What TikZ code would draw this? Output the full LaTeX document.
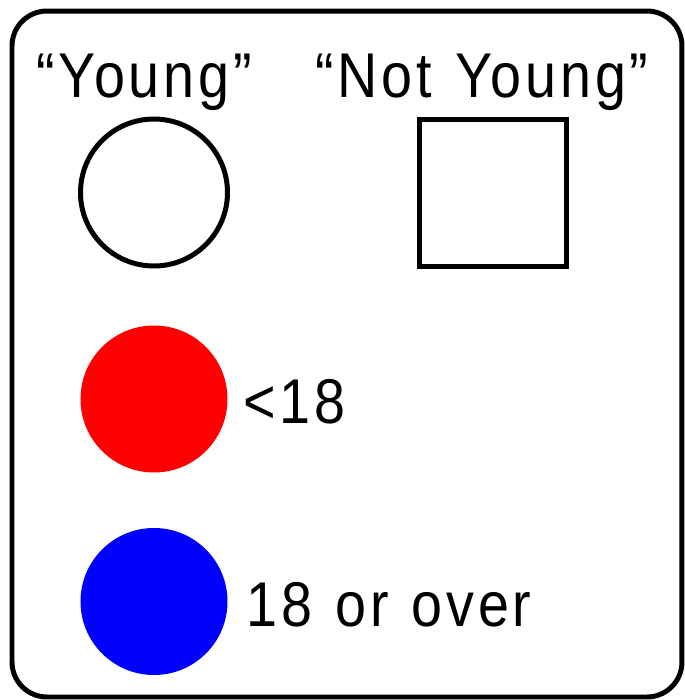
\documentclass[tikz,border=0pt]{standalone}
\usepackage{fontspec}
\setmainfont[FakeStretch=0.88, LetterSpace=6, WordSpace=1.2]{Liberation Sans}
\usepackage{tikz}
\usetikzlibrary{positioning}

\begin{document}
\begin{tikzpicture}[line width=1.42pt,
  every node/.style={font=\fontsize{18}{21}\selectfont, inner sep=0pt, outer sep=0pt},
  symbol/.style={draw, minimum size=1.47cm},
  dot/.style={circle, minimum size=1.47cm}]
\useasboundingbox (0,0) rectangle (6.85,7.00);
% frame
\draw[rounded corners=0.35cm] (0.12,0.03) rectangle (6.82,6.89);
% headers
\node[anchor=base] (younglbl) at (1.44,6.03) {“Young”};
\node[anchor=base] (oldlbl) at (4.82,6.03) {“Not Young”};
% shapes
\node[symbol, circle] (young) at (1.54,5.075) {};
\node[symbol, rectangle] (old) at (4.93,5.07) {};
% age colours
\node[dot, fill=red] (under) at (1.54,3.01) {};
\node[right=0.16cm of under, yshift=-0.03cm] (underlbl) {<18};
\node[dot, fill=blue] (over) at (1.54,0.985) {};
\node[right=0.19cm of over, yshift=-0.03cm] (overlbl) {18 or over};
\end{tikzpicture}
\end{document}
